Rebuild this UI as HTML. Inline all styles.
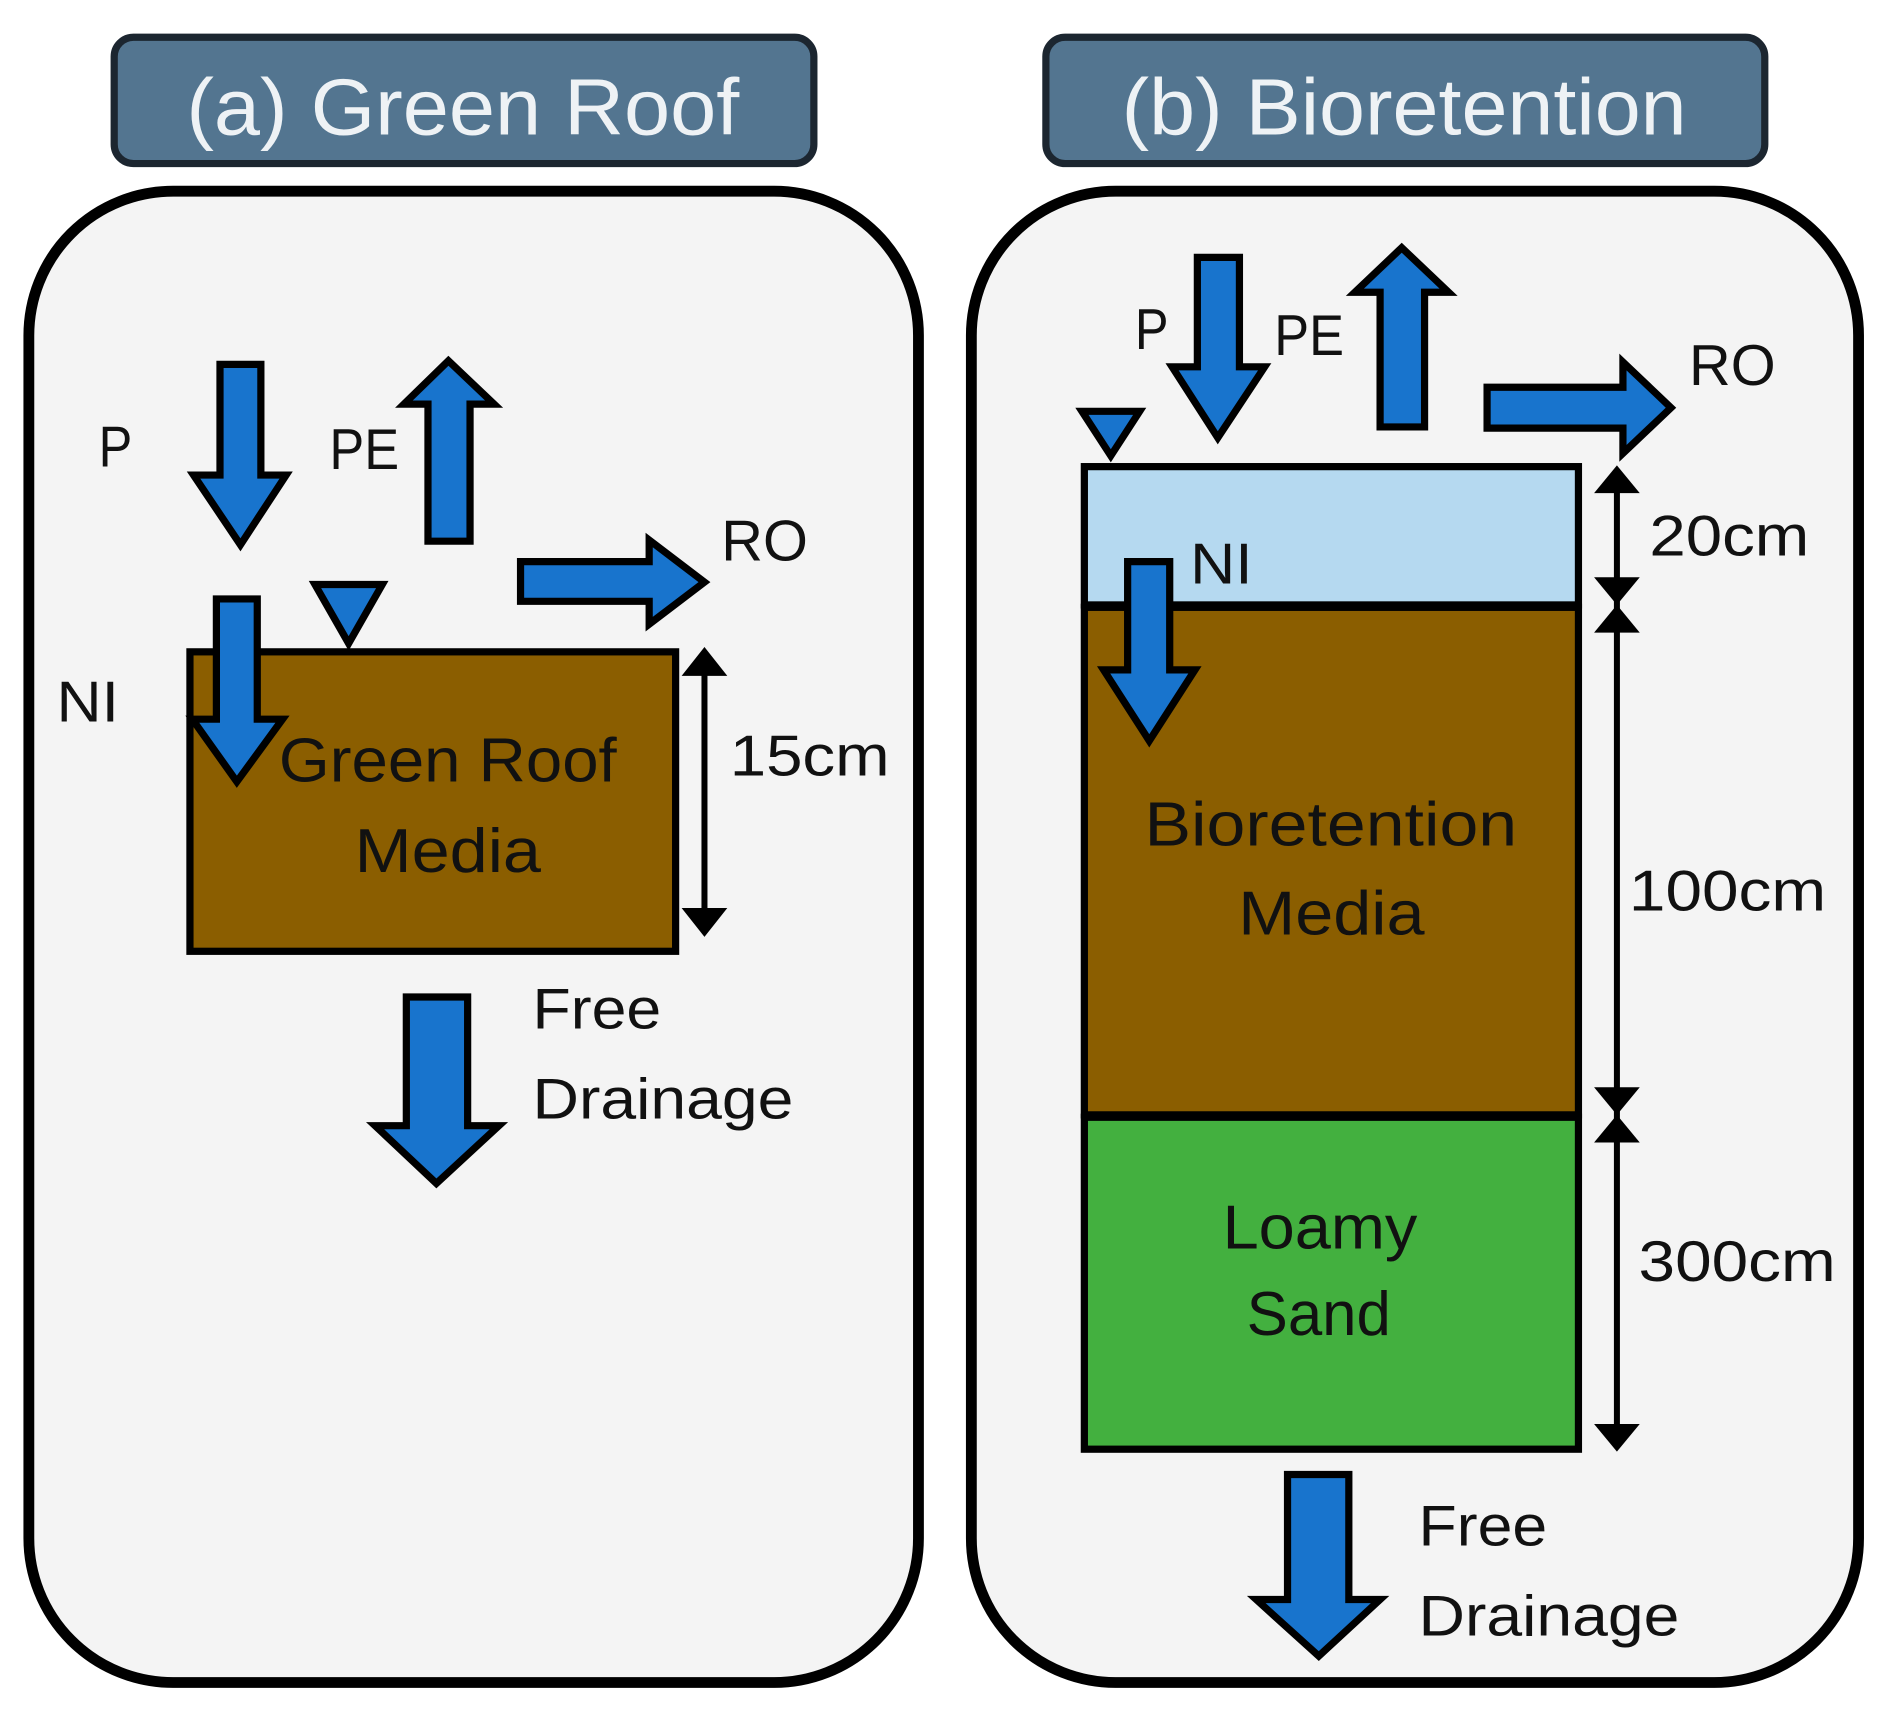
<!DOCTYPE html>
<html><head><meta charset="utf-8"><style>html,body{margin:0;padding:0;background:#fff}svg{display:block}text{font-family:"Liberation Sans",sans-serif}</style></head>
<body>
<svg width="1885" height="1721" viewBox="0 0 1568 1431" preserveAspectRatio="none" xmlns="http://www.w3.org/2000/svg">
<rect width="1568" height="1431" fill="#fff"/>
<!-- headers -->
<rect x="95" y="31" width="582" height="105" rx="16" fill="#537590" stroke="#1c2630" stroke-width="6"/>
<text x="155" y="112" font-size="66" fill="#eef2f5" textLength="460" lengthAdjust="spacingAndGlyphs">(a) Green Roof</text>
<rect x="870" y="31" width="598" height="105" rx="16" fill="#537590" stroke="#1c2630" stroke-width="6"/>
<text x="933" y="112" font-size="66" fill="#eef2f5" textLength="470" lengthAdjust="spacingAndGlyphs">(b) Bioretention</text>
<!-- panels -->
<rect x="24" y="159" width="740" height="1240" rx="120" fill="#f4f4f4" stroke="#000" stroke-width="9"/>
<rect x="808" y="159" width="738" height="1240" rx="120" fill="#f4f4f4" stroke="#000" stroke-width="9"/>

<g fill="#1874cd" stroke="#000" stroke-width="6" stroke-linejoin="miter">
<polygon points="183,303 217,303 217,395 238,395 200,453 161,395 183,395"/>
<polygon points="356,450 391,450 391,336 411,336 373,300 336,336 356,336"/>
<polygon points="433,467 540,467 540,449 586,484 540,519 540,500 433,500"/>
</g>
<rect x="158" y="542" width="404" height="249" fill="#8b5e00" stroke="#000" stroke-width="6"/>
<g fill="#1874cd" stroke="#000" stroke-width="6">
<polygon points="262,486 318,486 290,535"/>
<polygon points="180,498 214,498 214,598 235,598 197,650 160,598 180,598"/>
<polygon points="338,829 389,829 389,936 415,936 363,984 312,936 338,936"/>
</g>
<g fill="#111" font-size="48">
<text x="82" y="388" textLength="28" lengthAdjust="spacingAndGlyphs">P</text>
<text x="274" y="390" textLength="58" lengthAdjust="spacingAndGlyphs">PE</text>
<text x="600" y="466" textLength="72" lengthAdjust="spacingAndGlyphs">RO</text>
<text x="47" y="600" textLength="52" lengthAdjust="spacingAndGlyphs">NI</text>
<text x="607" y="645" textLength="133" lengthAdjust="spacingAndGlyphs">15cm</text>
<text x="443" y="855" textLength="107" lengthAdjust="spacingAndGlyphs">Free</text>
<text x="443" y="930" textLength="217" lengthAdjust="spacingAndGlyphs">Drainage</text>
</g>
<g fill="#111" font-size="52">
<text x="232" y="650" textLength="281" lengthAdjust="spacingAndGlyphs">Green Roof</text>
<text x="295" y="725" textLength="155" lengthAdjust="spacingAndGlyphs">Media</text>
</g>
<g stroke="#000" stroke-width="5"><line x1="586" y1="555" x2="586" y2="762"/></g>
<g fill="#000">
<polygon points="586,538 605,562 567,562"/><polygon points="586,779 605,755 567,755"/>
</g>

<!-- panel b -->
<rect x="902" y="388" width="411" height="115" fill="#b5d9f0" stroke="#000" stroke-width="6"/>
<rect x="902" y="505" width="411" height="422" fill="#8b5e00" stroke="#000" stroke-width="6"/>
<rect x="902" y="929" width="411" height="276" fill="#43b03f" stroke="#000" stroke-width="6"/>
<g fill="#1874cd" stroke="#000" stroke-width="6">
<polygon points="996,214 1031,214 1031,305 1052,305 1013,364 975,305 996,305"/>
<polygon points="1148,355 1185,355 1185,243 1205,243 1166,206 1127,243 1148,243"/>
<polygon points="1237,322 1350,322 1350,301 1390,339 1350,377 1350,356 1237,356"/>
<polygon points="900,342 948,342 924,379"/>
<polygon points="938,467 973,467 973,557 994,557 956,616 918,557 938,557"/>
<polygon points="1071,1226 1122,1226 1122,1330 1148,1330 1097,1377 1045,1330 1071,1330"/>
</g>
<g fill="#111" font-size="48">
<text x="944" y="290" textLength="28" lengthAdjust="spacingAndGlyphs">P</text>
<text x="1060" y="295" textLength="58" lengthAdjust="spacingAndGlyphs">PE</text>
<text x="1405" y="320" textLength="72" lengthAdjust="spacingAndGlyphs">RO</text>
<text x="990" y="485" textLength="52" lengthAdjust="spacingAndGlyphs">NI</text>
<text x="1372" y="462" textLength="133" lengthAdjust="spacingAndGlyphs">20cm</text>
<text x="1355" y="757" textLength="164" lengthAdjust="spacingAndGlyphs">100cm</text>
<text x="1363" y="1065" textLength="164" lengthAdjust="spacingAndGlyphs">300cm</text>
<text x="1180" y="1285" textLength="107" lengthAdjust="spacingAndGlyphs">Free</text>
<text x="1180" y="1360" textLength="217" lengthAdjust="spacingAndGlyphs">Drainage</text>
</g>
<g fill="#111" font-size="52">
<text x="952" y="703" textLength="310" lengthAdjust="spacingAndGlyphs">Bioretention</text>
<text x="1030" y="777" textLength="155" lengthAdjust="spacingAndGlyphs">Media</text>
<text x="1017" y="1038" textLength="162" lengthAdjust="spacingAndGlyphs">Loamy</text>
<text x="1037" y="1110" textLength="120" lengthAdjust="spacingAndGlyphs">Sand</text>
</g>
<g stroke="#000" stroke-width="5"><line x1="1345" y1="400" x2="1345" y2="1192"/></g>
<g fill="#000">
<polygon points="1345,387 1364,410 1326,410"/>
<polygon points="1345,503 1364,480 1326,480"/>
<polygon points="1345,503 1364,526 1326,526"/>
<polygon points="1345,927 1364,904 1326,904"/>
<polygon points="1345,927 1364,950 1326,950"/>
<polygon points="1345,1207 1364,1184 1326,1184"/>
</g>
</svg>
</body></html>
